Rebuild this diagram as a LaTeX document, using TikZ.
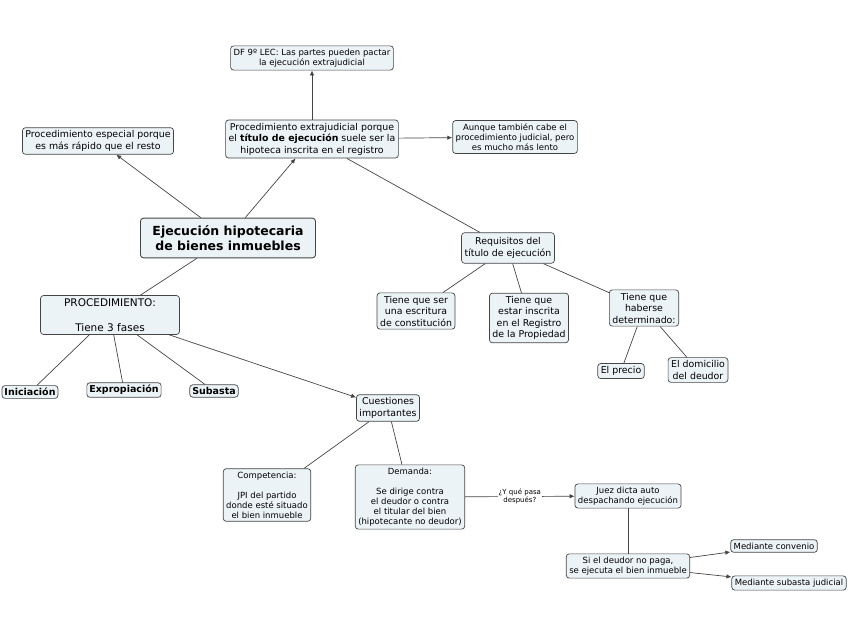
\documentclass[tikz,border=0pt]{standalone}
\usepackage{fontspec}
\setmainfont{DejaVu Sans}
\usetikzlibrary{arrows.meta}
\definecolor{boxfill}{HTML}{ECF3F7}
\definecolor{boxline}{HTML}{454545}
\tikzset{
  concept/.style={draw=boxline,fill=boxfill,rounded corners=3pt,align=center,inner sep=3pt,line width=0.7pt,font=\fontsize{9.4}{11.5}\selectfont},
  small/.style={concept,font=\fontsize{8.5}{10}\selectfont},
  phase/.style={concept,inner sep=2.5pt,font=\bfseries\fontsize{9.5}{11}\selectfont},
  topic/.style={concept,inner xsep=12pt,inner ysep=7pt,line width=0.9pt,font=\bfseries\fontsize{12.5}{15.5}\selectfont},
  link/.style={draw=boxline,line width=0.7pt},
  arr/.style={link,-{Latex[length=5pt,width=4.5pt]}},
  tag/.style={fill=white,inner sep=1pt,align=center,font=\fontsize{7}{8}\selectfont}
}

\begin{document}
\begin{tikzpicture}[x=1pt,y=-1pt]

    % -- Fix the page to the size of the map --
    \useasboundingbox (0,0) rectangle (848,638);

    % -- Central concept --
    \node[topic] (main) at (228,238) {Ejecución hipotecaria\\de bienes inmuebles};

    % -- Upper branch --
    \node[small] (df) at (312,58) {DF 9º LEC: Las partes pueden pactar\\la ejecución extrajudicial};
    \node[concept] (especial) at (98,141) {Procedimiento especial porque\\es más rápido que el resto};
    \node[concept] (extra) at (312,139) {Procedimiento extrajudicial porque\\el \textbf{título de ejecución} suele ser la\\hipoteca inscrita en el registro};
    \node[small] (aunque) at (515,137) {Aunque también cabe el\\procedimiento judicial, pero\\es mucho más lento};

    % -- Requirements of the title --
    \node[concept,inner ysep=5pt] (requisitos) at (508,248) {Requisitos del\\título de ejecución};
    \node[concept] (escritura) at (416,311) {Tiene que ser\\una escritura\\de constitución};
    \node[concept] (inscrita) at (529,318) {Tiene que\\estar inscrita\\en el Registro\\de la Propiedad};
    \node[concept] (haberse) at (644,308) {Tiene que\\haberse\\determinado:};
    \node[concept] (precio) at (621,371) {El precio};
    \node[concept] (domicilio) at (698,370) {El domicilio\\del deudor};

    % -- Procedure and its phases --
    \node[concept,minimum width=139pt,font=\fontsize{10.5}{12.5}\selectfont] (proc) at (110,315) {PROCEDIMIENTO:\\ \\Tiene 3 fases};
    \node[phase] (iniciacion) at (30,392) {Iniciación};
    \node[phase] (expropiacion) at (124,390) {Expropiación};
    \node[phase] (subasta) at (214,391) {Subasta};

    % -- Important questions --
    \node[concept] (cuestiones) at (388,408) {Cuestiones\\importantes};
    \node[small] (competencia) at (267,495) {Competencia:\\ \\JPI del partido\\donde esté situado\\el bien inmueble};
    \node[small] (demanda) at (410,497) {Demanda:\\ \\Se dirige contra\\el deudor o contra\\el titular del bien\\(hipotecante no deudor)};
    \node[small] (juez) at (628,496) {Juez dicta auto\\despachando ejecución};
    \node[small] (impago) at (628,566) {Si el deudor no paga,\\se ejecuta el bien inmueble};
    \node[small] (convenio) at (774,546) {Mediante convenio};
    \node[small] (subjudicial) at (789,583) {Mediante subasta judicial};

    % -- Connectors --
    \draw[arr] (main) -- (especial);
    \draw[arr] (main) -- (extra);
    \draw[arr] (extra) -- (df);
    \draw[arr] (extra) -- (aunque);
    \draw[link] (extra) -- (requisitos);
    \draw[link] (requisitos) -- (escritura);
    \draw[link] (requisitos) -- (inscrita);
    \draw[link] (requisitos) -- (haberse);
    \draw[link] (haberse) -- (precio);
    \draw[link] (haberse) -- (domicilio);
    \draw[link] (main) -- (proc);
    \draw[link] (proc) -- (iniciacion);
    \draw[link] (proc) -- (expropiacion);
    \draw[link] (proc) -- (subasta);
    \draw[arr] (proc) -- (cuestiones);
    \draw[link] (cuestiones) -- (competencia);
    \draw[link] (cuestiones) -- (demanda);
    \draw[arr] (demanda) -- node[tag] {¿Y qué pasa\\después?} (juez);
    \draw[link] (juez) -- (impago);
    \draw[arr] (impago) -- (convenio);
    \draw[arr] (impago) -- (subjudicial);

\end{tikzpicture}
\end{document}
